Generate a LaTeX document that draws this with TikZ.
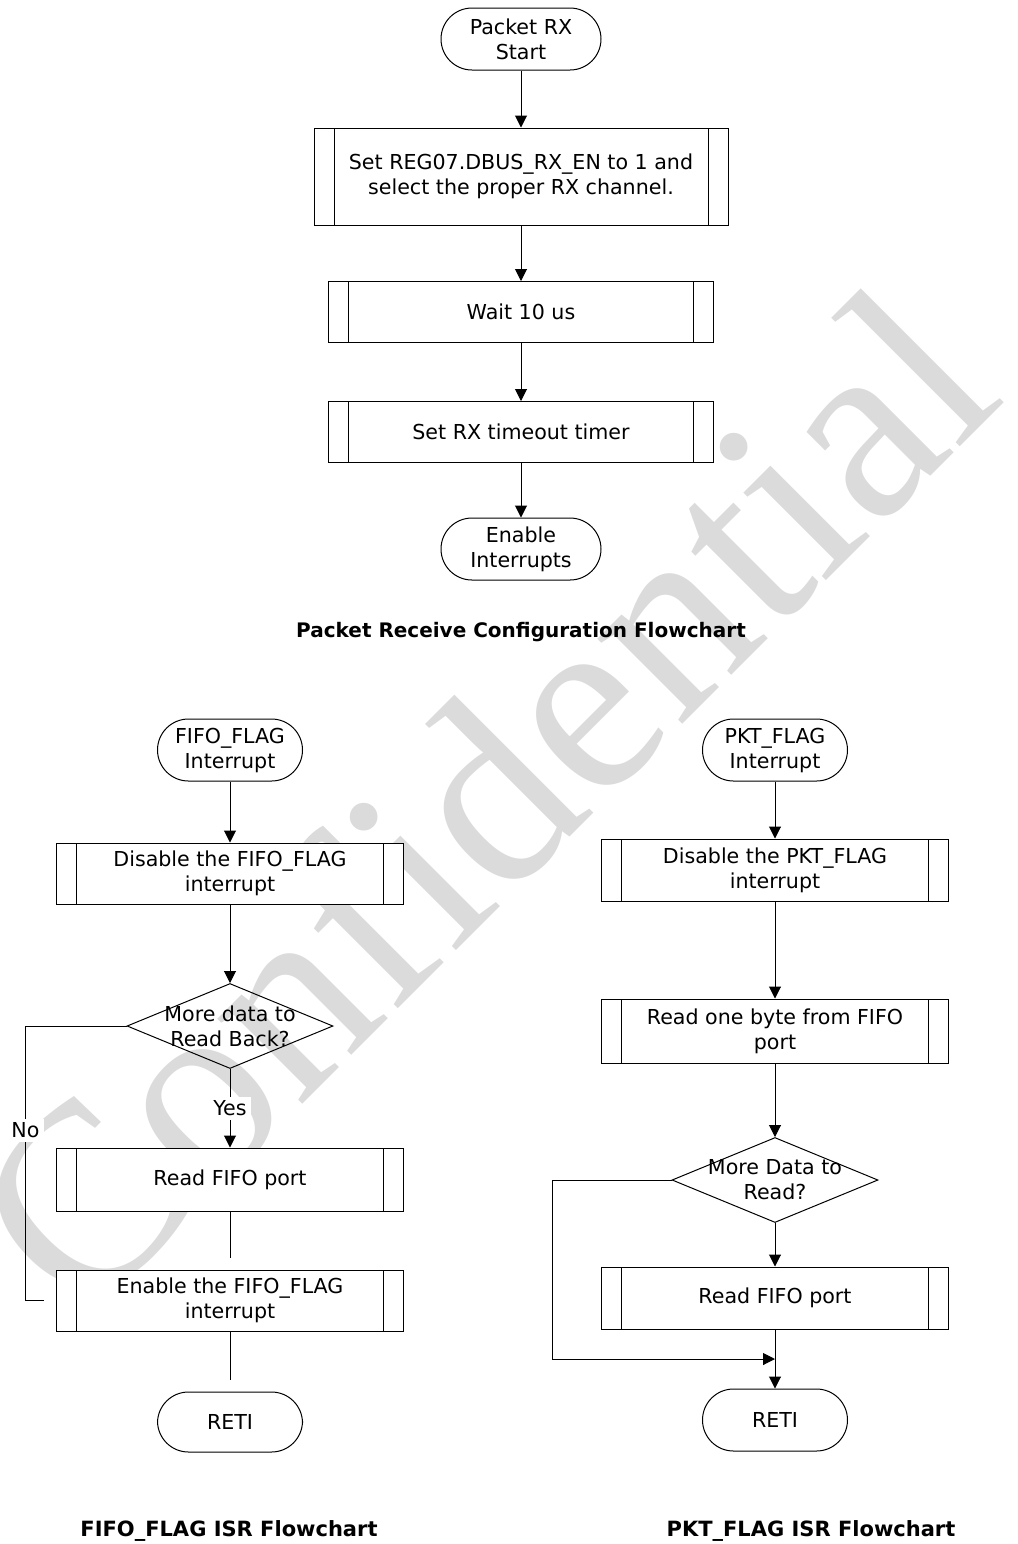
\documentclass[tikz,border=0pt]{standalone}
\usepackage{fontspec}
\setsansfont{DejaVu Sans}
\newfontfamily\wmfont{Liberation Serif}
\usetikzlibrary{shapes.geometric, arrows.meta}

\tikzset{
    every node/.style={font=\sffamily\fontsize{10.3}{12.5}\selectfont},
    term/.style={draw, fill=white, rounded corners=15.5pt, minimum width=72.5pt, minimum height=31pt, inner sep=0pt, align=center},
    proc/.style={draw, fill=white, minimum width=173.5pt, minimum height=30.5pt, inner sep=0pt, align=center,
        path picture={
            \draw[line width=0.5pt] ([xshift=10pt]path picture bounding box.north west) -- ([xshift=10pt]path picture bounding box.south west)
                ([xshift=-10pt]path picture bounding box.north east) -- ([xshift=-10pt]path picture bounding box.south east);
        }},
    decision/.style={draw, diamond, aspect=2.4, minimum width=103pt, minimum height=42.5pt, inner sep=0pt},
    arr/.style={-{Triangle[length=6pt, width=6pt]}},
    ttl/.style={font=\sffamily\fontsize{10}{12}\selectfont\bfseries}
}

\begin{document}
\begin{tikzpicture}[x=0.5pt, y=-0.5pt, line width=0.5pt]
    \useasboundingbox (0,0) rectangle (1018,1544);

    % Watermark
    \node[rotate=45, anchor=base, text=black!14, font=\wmfont\fontsize{131}{131}\selectfont] (wm) at (545,862) {Confidential};

    % Packet receive configuration
    \node[term, minimum width=80pt] (start) at (521,39) {Packet RX\\Start};
    \node[proc, minimum width=207pt, minimum height=48.5pt] (setreg) at (521,176.5) {Set REG07.DBUS\_RX\_EN to 1 and\\select the proper RX channel.};
    \node[proc, minimum width=192.5pt] (wait) at (521,312) {Wait 10 us};
    \node[proc, minimum width=192.5pt] (timer) at (521,432) {Set RX timeout timer};
    \node[term, minimum width=80pt] (enint) at (521,549) {Enable\\Interrupts};
    \node[ttl] (title1) at (521,632) {Packet Receive Configuration Flowchart};

    \draw[arr] (start) -- (setreg);
    \draw[arr] (setreg) -- (wait);
    \draw[arr] (wait) -- (timer);
    \draw[arr] (timer) -- (enint);

    % FIFO_FLAG ISR
    \node[term] (fifoint) at (230,750) {FIFO\_FLAG\\Interrupt};
    \node[proc] (disfifo) at (230,873.5) {Disable the FIFO\_FLAG\\interrupt};
    \node[decision, label={[align=center]center:{More data to\\Read Back?}}] (morefifo) at (230,1026) {};
    \node[proc, minimum height=31.5pt] (rdfifo) at (230,1179.5) {Read FIFO port};
    \node[proc] (enfifo) at (230,1300.5) {Enable the FIFO\_FLAG\\interrupt};
    \node[term, minimum height=30pt] (reti1) at (230,1422) {RETI};
    \node[ttl, font=\sffamily\fontsize{10.5}{12}\selectfont\bfseries] (title2) at (229,1531) {FIFO\_FLAG ISR Flowchart};

    \draw[arr] (fifoint) -- (disfifo);
    \draw[arr] (disfifo) -- (morefifo);
    \draw[arr] (morefifo) -- node[fill=white, inner sep=2pt] {Yes} (rdfifo);
    \draw[shorten >=6pt] (rdfifo) -- (enfifo);
    \draw[shorten >=6pt] (enfifo) -- (reti1);
    \draw[shorten >=6pt] (morefifo.west) -- ++(-101,0) |- node[pos=0.19, fill=white, inner sep=2pt] {No} (enfifo.west);

    % PKT_FLAG ISR
    \node[term] (pktint) at (775,750) {PKT\_FLAG\\Interrupt};
    \node[proc, minimum height=31pt] (dispkt) at (775,870) {Disable the PKT\_FLAG\\interrupt};
    \node[proc, minimum height=32pt] (rdbyte) at (775,1031) {Read one byte from FIFO\\port};
    \node[decision, label={[align=center]center:{More Data to\\Read?}}] (morepkt) at (775,1180) {};
    \node[proc, minimum height=31pt] (rdpkt) at (775,1298) {Read FIFO port};
    \coordinate (join) at (775,1359);
    \node[term] (reti2) at (775,1420) {RETI};
    \node[ttl, font=\sffamily\fontsize{10.5}{12}\selectfont\bfseries] (title3) at (811,1531) {PKT\_FLAG ISR Flowchart};

    \draw[arr] (pktint) -- (dispkt);
    \draw[arr] (dispkt) -- (rdbyte);
    \draw[arr] (rdbyte) -- (morepkt);
    \draw[arr] (morepkt) -- (rdpkt);
    \draw[arr] (rdpkt) -- (reti2);
    \draw[arr] (morepkt.west) -- ++(-119,0) |- (join);
\end{tikzpicture}
\end{document}
